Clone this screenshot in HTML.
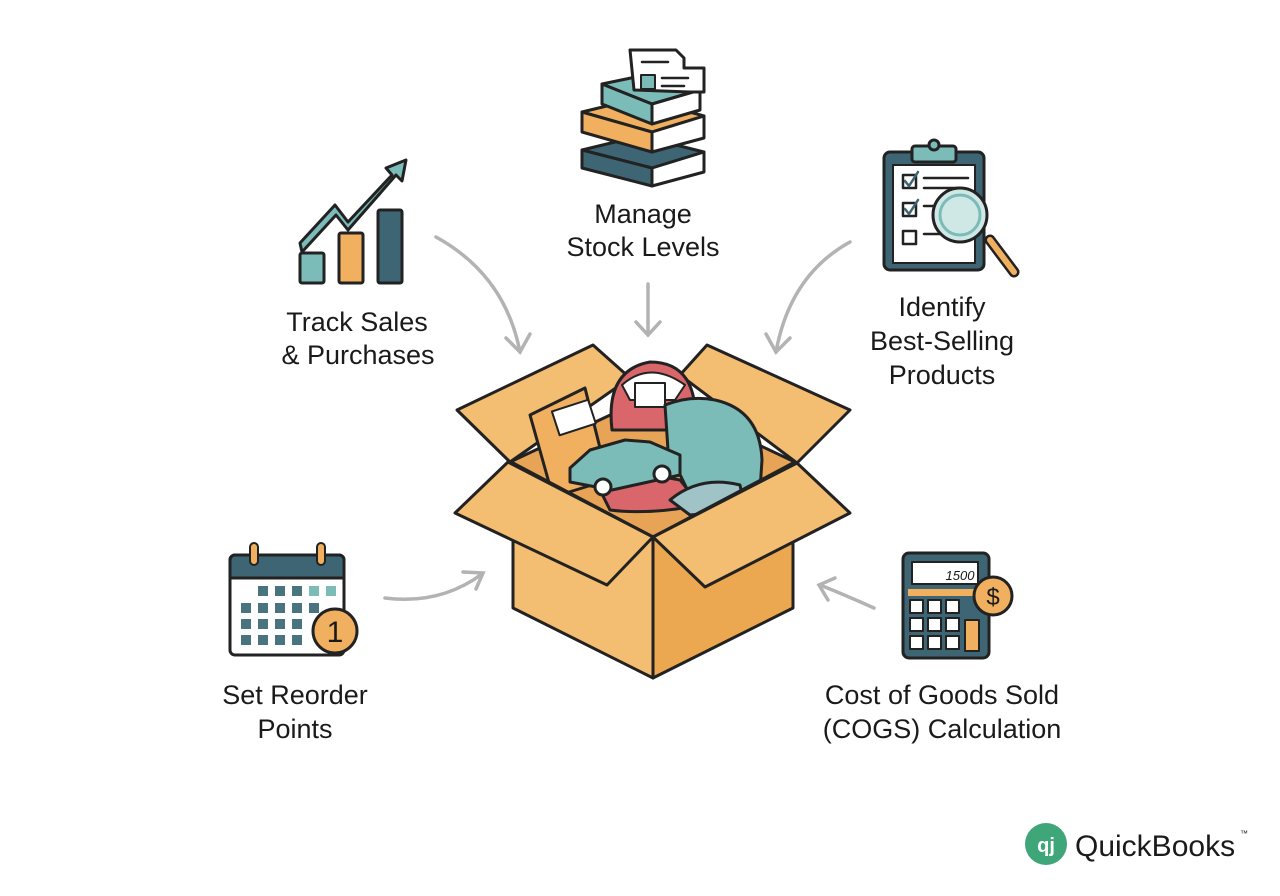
<!DOCTYPE html>
<html><head><meta charset="utf-8"><style>
html,body{margin:0;padding:0;background:#fff;}
svg{display:block}
text{font-family:"Liberation Sans",sans-serif;fill:#1a1a1a}
</style></head><body>
<svg width="1280" height="896" viewBox="0 0 1280 896" xmlns="http://www.w3.org/2000/svg">
<rect width="1280" height="896" fill="#fff"/>
<g stroke="#222" stroke-width="3" stroke-linejoin="round" stroke-linecap="round">
<!-- chart -->
<path d="M300 243 L335 205 L348 222 L392 175 L386 168 L406 160 L402 181 L396 175 L348 230 L336 215 L302 252 Z" fill="#7bbcb8"/>
<rect x="300" y="253" width="24" height="30" rx="2" fill="#7bbcb8"/>
<rect x="339" y="233" width="24" height="50" rx="2" fill="#f0b060"/>
<rect x="378" y="210" width="24" height="73" rx="2" fill="#3e6573"/>
<!-- books -->
<path d="M582 150 L640 136 L704 152 L652 168 Z" fill="#3e6573"/>
<path d="M582 150 L652 168 L652 186 L582 168 Z" fill="#3e6573"/>
<path d="M652 168 L704 152 L704 172 L652 186 Z" fill="#fff"/>
<path d="M582 112 L640 98 L704 116 L652 132 Z" fill="#f0b060"/>
<path d="M582 112 L652 132 L652 152 L582 132 Z" fill="#f0b060"/>
<path d="M652 132 L704 116 L704 138 L652 152 Z" fill="#fff"/>
<path d="M602 84 L650 74 L700 90 L652 104 Z" fill="#7bbcb8"/>
<path d="M602 84 L652 104 L652 124 L602 104 Z" fill="#7bbcb8"/>
<path d="M652 104 L700 90 L700 110 L652 124 Z" fill="#fff"/>
<path d="M630 50 L676 50 L684 58 L684 68 L704 68 L704 92 L690 92 L634 90 Z" fill="#fff"/>
<rect x="641" y="75" width="14" height="14" fill="#7bbcb8" stroke-width="2"/>
<path d="M642 62 H668 M662 78 H688 M662 86 H684" stroke-width="2.5"/>
<!-- clipboard -->
<rect x="884" y="152" width="100" height="118" rx="6" fill="#3e6573"/>
<rect x="893" y="165" width="82" height="98" fill="#fff" stroke-width="2"/>
<rect x="912" y="146" width="44" height="16" rx="3" fill="#7bbcb8"/>
<circle cx="934" cy="145" r="5" fill="#7bbcb8"/>
<rect x="903" y="175" width="13" height="13" fill="#fff" stroke-width="2.5"/>
<rect x="903" y="203" width="13" height="13" fill="#fff" stroke-width="2.5"/>
<rect x="903" y="231" width="13" height="13" fill="#fff" stroke-width="2.5"/>
<path d="M905 181 L909 186 L918 172 M905 209 L909 214 L918 200" stroke="#3e6573" stroke-width="2.5" fill="none"/>
<path d="M924 178 H968 M924 188 H960 M924 206 H940 M924 234 H940" stroke-width="2.5"/>
<path d="M990 240 L1014 272" stroke="#222" stroke-width="11"/>
<path d="M990 240 L1014 272" stroke="#f0b060" stroke-width="6"/>
<circle cx="960" cy="215" r="27" fill="#cfe8e6" stroke-width="3"/>
<circle cx="960" cy="215" r="20" fill="none" stroke="#7bbcb8" stroke-width="3"/>
<!-- calendar -->
<rect x="230" y="555" width="114" height="100" rx="5" fill="#fff"/>
<path d="M230 578 V560 a5 5 0 0 1 5 -5 H339 a5 5 0 0 1 5 5 V578 Z" fill="#3e6573"/>
<rect x="250" y="543" width="8" height="22" rx="4" fill="#f0b060" stroke-width="2"/>
<rect x="317" y="543" width="8" height="22" rx="4" fill="#f0b060" stroke-width="2"/>
<g fill="#4a7380" stroke="none">
<rect x="258" y="586" width="10" height="10"/><rect x="275" y="586" width="10" height="10"/><rect x="292" y="586" width="10" height="10"/><rect x="309" y="586" width="10" height="10" fill="#7bbcb8"/><rect x="326" y="586" width="10" height="10" fill="#7bbcb8"/>
<rect x="241" y="603" width="10" height="10"/><rect x="258" y="603" width="10" height="10"/><rect x="275" y="603" width="10" height="10"/><rect x="292" y="603" width="10" height="10"/><rect x="309" y="603" width="10" height="10"/>
<rect x="241" y="619" width="10" height="10"/><rect x="258" y="619" width="10" height="10"/><rect x="275" y="619" width="10" height="10"/><rect x="292" y="619" width="10" height="10"/>
<rect x="241" y="635" width="10" height="10"/><rect x="258" y="635" width="10" height="10"/><rect x="275" y="635" width="10" height="10"/><rect x="292" y="635" width="10" height="10"/>
</g>
<circle cx="335" cy="631" r="22" fill="#f0b060"/>
<!-- calculator -->
<rect x="903" y="553" width="86" height="105" rx="6" fill="#3e6573"/>
<rect x="912" y="562" width="66" height="22" fill="#fff" stroke-width="2"/>
<rect x="908" y="589" width="76" height="7" fill="#f0b060" stroke="none"/>
<g fill="#fff" stroke-width="2">
<rect x="910" y="600" width="13" height="13"/><rect x="928" y="600" width="13" height="13"/><rect x="946" y="600" width="13" height="13"/>
<rect x="910" y="618" width="13" height="13"/><rect x="928" y="618" width="13" height="13"/><rect x="946" y="618" width="13" height="13"/>
<rect x="910" y="636" width="13" height="13"/><rect x="928" y="636" width="13" height="13"/><rect x="946" y="636" width="13" height="13"/>
</g>
<rect x="965" y="620" width="14" height="31" fill="#f0b060" stroke-width="2"/>
<circle cx="993" cy="596" r="19" fill="#f0b060"/>
</g>
<text x="960" y="580" font-size="13" font-style="italic" text-anchor="middle">1500</text>
<text x="993" y="605" font-size="24" text-anchor="middle">$</text>
<text x="335" y="642" font-size="30" text-anchor="middle">1</text>

<!-- arrows -->
<g fill="none" stroke="#b3b3b3" stroke-width="3.5" stroke-linecap="round">
<path d="M436 237 Q505 275 520 352"/><path d="M506 338 L520 352 L530 334"/>
<path d="M648 284 V334"/><path d="M636 322 L648 335 L660 322"/>
<path d="M850 242 Q790 275 776 352"/><path d="M766 334 L776 352 L790 338"/>
<path d="M385 598 Q440 605 482 574"/><path d="M463 572 L483 573 L476 589"/>
<path d="M874 608 Q845 595 820 585"/><path d="M828 600 L819 585 L835 578"/>
</g>

<!-- box -->
<g stroke="#222" stroke-width="3" stroke-linejoin="round">
<path d="M510 462 L653 395 L797 463 L653 537 Z" fill="#e8a456"/>
<path d="M457 410 L593 345 L630 378 L510 462 Z" fill="#f3bd72"/>
<path d="M680 375 L707 345 L850 410 L797 463 Z" fill="#f3bd72"/>
<!-- contents -->
<path d="M612 430 Q605 370 650 362 Q700 362 695 430 Z" fill="#d9666a"/>
<path d="M622 385 Q650 360 685 385 L675 400 L630 400 Z" fill="#fff" stroke-width="2"/>
<rect x="635" y="383" width="30" height="24" fill="#fff" stroke-width="2"/>
<path d="M530 415 L585 388 L608 480 L553 497 Z" fill="#f0b060"/>
<rect x="555" y="405" width="38" height="25" transform="rotate(-18 574 418)" fill="#fff" stroke-width="2"/>
<path d="M665 405 Q690 395 715 400 Q760 410 762 460 L760 490 L690 495 L668 450 Z" fill="#7bbcb8"/>
<path d="M600 490 Q630 470 680 480 L700 505 Q650 515 610 510 Z" fill="#d9666a"/>
<path d="M670 500 Q700 475 740 485 L745 510 L690 515 Z" fill="#9fc3c7"/>
<path d="M570 468 L590 450 L625 440 L650 442 L680 455 L680 475 L612 490 L570 482 Z" fill="#7bbcb8"/>
<circle cx="603" cy="487" r="8" fill="#fff"/>
<circle cx="662" cy="474" r="8" fill="#fff"/>
<!-- front faces -->
<path d="M513 463 L653 537 L653 678 L513 608 Z" fill="#f3bd72"/>
<path d="M653 537 L793 463 L793 608 L653 678 Z" fill="#eca850"/>
<path d="M508 462 L455 513 L607 585 L653 537 Z" fill="#f3bd72"/>
<path d="M653 537 L705 587 L850 513 L797 463 Z" fill="#f3bd72"/>
</g>

<!-- labels -->
<g font-size="27" text-anchor="middle">
<text x="357" y="331">Track Sales</text><text x="358" y="364">&amp; Purchases</text>
<text x="643" y="223">Manage</text><text x="643" y="256">Stock Levels</text>
<text x="942" y="316">Identify</text><text x="942" y="350">Best-Selling</text><text x="942" y="384">Products</text>
<text x="295" y="704">Set Reorder</text><text x="295" y="738">Points</text>
<text x="942" y="704">Cost of Goods Sold</text><text x="942" y="738">(COGS) Calculation</text>
</g>
<!-- logo -->
<circle cx="1046" cy="844" r="21" fill="#3fa67a"/>
<text x="1046" y="852" font-size="20" font-weight="bold" text-anchor="middle" style="fill:#fff">qj</text>
<text x="1075" y="856" font-size="30">QuickBooks</text>
<text x="1240" y="836" font-size="8">™</text>
</svg>
</body></html>
